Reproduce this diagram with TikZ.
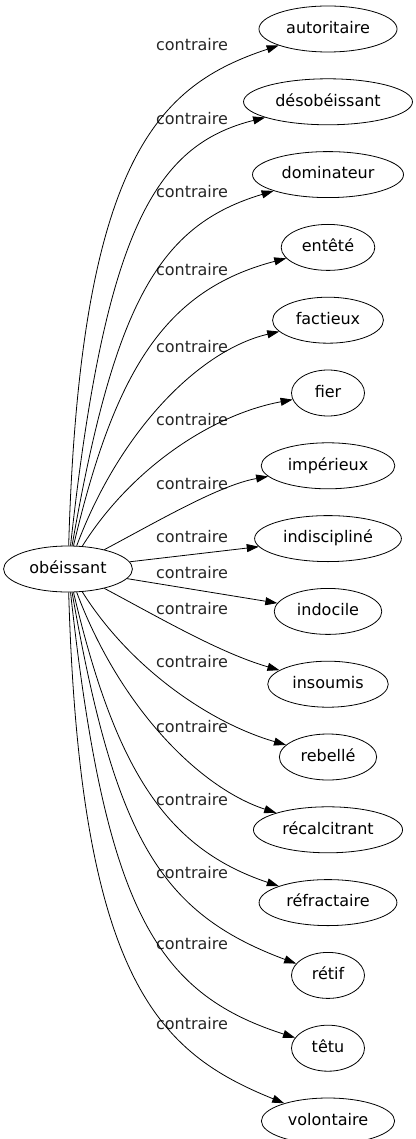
\documentclass[tikz,border=0pt]{standalone}
\usepackage{fontspec}
\setmainfont{DejaVu Sans}
\usepackage{tikz}
\usetikzlibrary{arrows.meta,positioning,shapes.geometric}

\begin{document}
\begin{tikzpicture}[
    x=1pt, y=-1pt,
    word/.style={ellipse, draw, line width=0.8pt, minimum width=73pt, minimum height=46pt,
        inner xsep=7pt, inner ysep=2pt, text height=12pt, text depth=3.5pt,
        font=\fontsize{16}{19}\selectfont},
    lbl/.style={inner sep=1pt, text=black!85, font=\fontsize{16}{19}\selectfont},
    arrow/.style={-{Triangle[length=12pt,width=8pt]}, line width=0.8pt}
]
    \useasboundingbox (0,0) rectangle (415,1139);

    % Source
    \node[word] (obeissant) at (68,569) {obéissant};

    % Targets
    \node[word] (t1) at (328,29) {autoritaire};
    \node[word, below=26pt of t1] (t2) {désobéissant};
    \node[word, below=26pt of t2] (t3) {dominateur};
    \node[word, below=26pt of t3] (t4) {entêté};
    \node[word, below=26pt of t4] (t5) {factieux};
    \node[word, below=26pt of t5] (t6) {fier};
    \node[word, below=26pt of t6] (t7) {impérieux};
    \node[word, below=26pt of t7] (t8) {indiscipliné};
    \node[word, below=26pt of t8] (t9) {indocile};
    \node[word, below=26pt of t9] (t10) {insoumis};
    \node[word, below=26pt of t10] (t11) {rebellé};
    \node[word, below=26pt of t11] (t12) {récalcitrant};
    \node[word, below=26pt of t12] (t13) {réfractaire};
    \node[word, below=26pt of t13] (t14) {rétif};
    \node[word, below=26pt of t14] (t15) {têtu};
    \node[word, below=26pt of t15] (t16) {volontaire};

    % Labels
    \node[lbl] (l1) at (192,45) {contraire};
    \node[lbl] (l2) at (192,119) {contraire};
    \node[lbl] (l3) at (192,192) {contraire};
    \node[lbl] (l4) at (192,270) {contraire};
    \node[lbl] (l5) at (192,347) {contraire};
    \node[lbl] (l6) at (192,420) {contraire};
    \node[lbl] (l7) at (192,484) {contraire};
    \node[lbl] (l8) at (192,537) {contraire};
    \node[lbl] (l9) at (192,573) {contraire};
    \node[lbl] (l10) at (192,609) {contraire};
    \node[lbl] (l11) at (192,662) {contraire};
    \node[lbl] (l12) at (192,727) {contraire};
    \node[lbl] (l13) at (192,800) {contraire};
    \node[lbl] (l14) at (192,873) {contraire};
    \node[lbl] (l15) at (192,944) {contraire};
    \node[lbl] (l16) at (192,1024) {contraire};

    % Arrows
    \draw[arrow] (obeissant) .. controls (80,155) and (160,85) .. (t1);
    \draw[arrow] (obeissant) .. controls (105,230) and (155,145) .. (t2);
    \draw[arrow] (obeissant) .. controls (115,300) and (160,225) .. (t3);
    \draw[arrow] (obeissant) .. controls (115,370) and (165,290) .. (t4);
    \draw[arrow] (obeissant) .. controls (120,430) and (200,350) .. (t5);
    \draw[arrow] (obeissant) .. controls (130,470) and (210,415) .. (t6);
    \draw[arrow] (obeissant) .. controls (160,520) and (220,485) .. (t7);
    \draw[arrow] (obeissant) -- (t8);
    \draw[arrow] (obeissant) -- (t9);
    \draw[arrow] (obeissant) .. controls (160,618) and (220,653) .. (t10);
    \draw[arrow] (obeissant) .. controls (130,668) and (210,723) .. (t11);
    \draw[arrow] (obeissant) .. controls (120,708) and (200,788) .. (t12);
    \draw[arrow] (obeissant) .. controls (115,768) and (165,848) .. (t13);
    \draw[arrow] (obeissant) .. controls (115,838) and (160,913) .. (t14);
    \draw[arrow] (obeissant) .. controls (105,908) and (155,993) .. (t15);
    \draw[arrow] (obeissant) .. controls (80,983) and (160,1053) .. (t16);

\end{tikzpicture}
\end{document}
